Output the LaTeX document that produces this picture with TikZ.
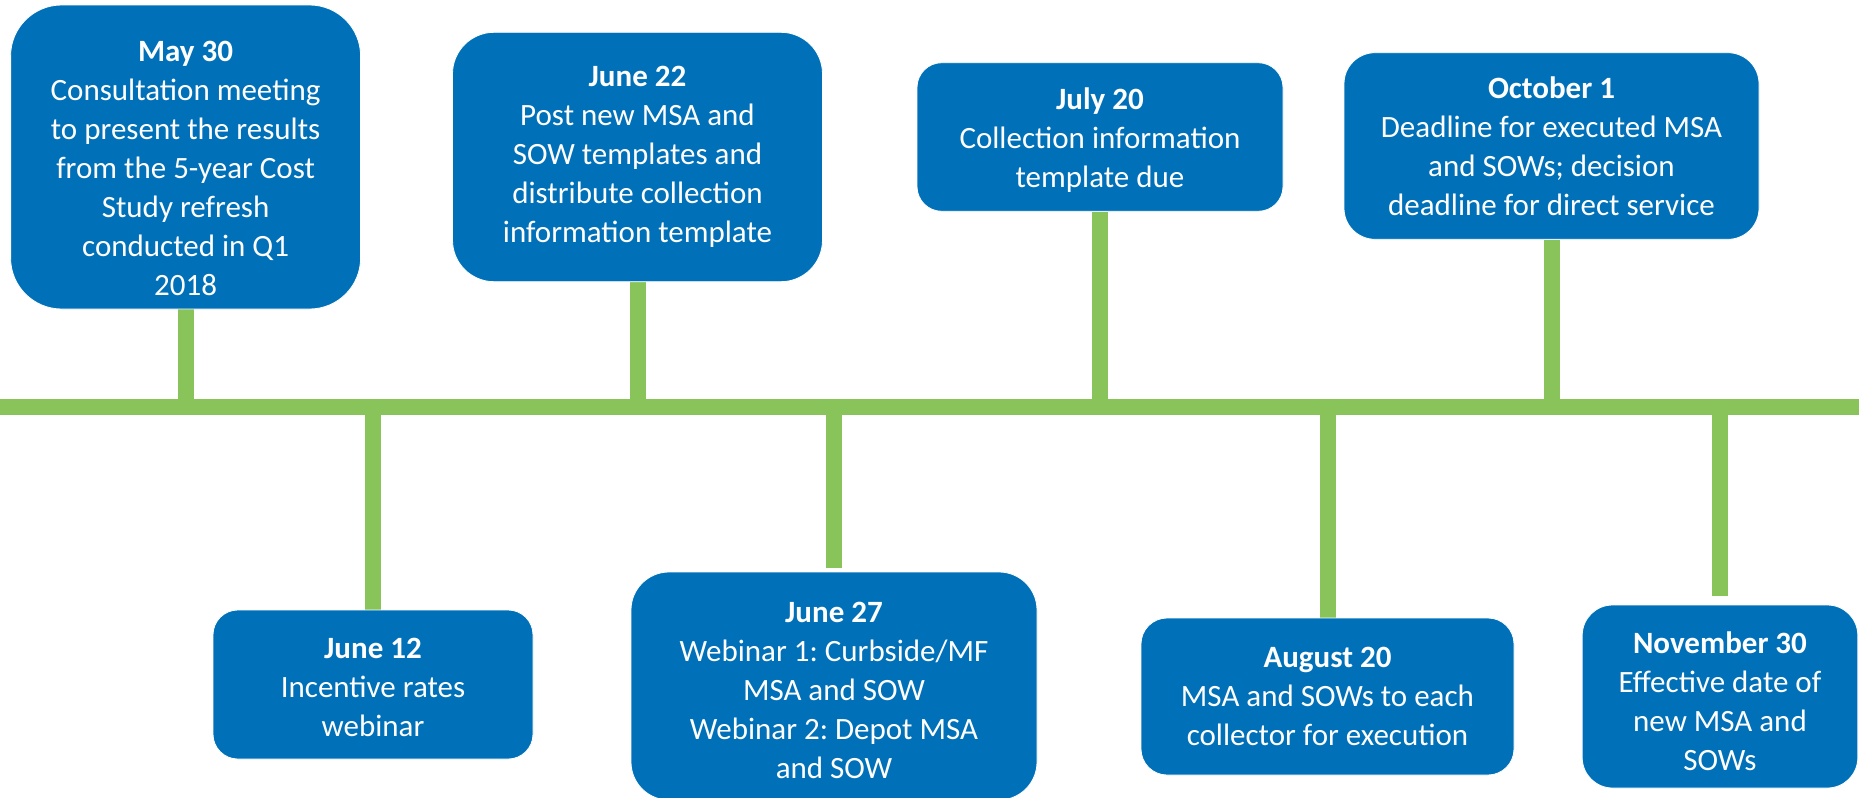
\documentclass[tikz,border=0pt]{standalone}
\usepackage{fontspec}
\setmainfont{Carlito}
\usetikzlibrary{backgrounds}
\definecolor{boxblue}{HTML}{0070B8}
\definecolor{linegreen}{HTML}{88C45A}
\newcommand{\dropby}[1]{\rule{0pt}{\dimexpr 10pt+2\dimexpr #1\relax\relax}}
\tikzset{
  evbox/.style={rectangle, fill=boxblue, draw=white, line width=0.4pt, text=white, align=center,
    font=\fontsize{15.5}{19.5}\selectfont\frenchspacing, inner sep=0pt},
  tline/.style={draw=linegreen, line width=8pt},
}
\begin{document}
\begin{tikzpicture}[x=0.5pt,y=-0.5pt]
\useasboundingbox (0,0) rectangle (1859,798);
% boxes (top row)
\node[evbox, minimum width=175pt, minimum height=152pt, rounded corners=25.5pt] (may30) at (185.6,157)
  {\dropby{6pt}\textbf{May 30}\\Consultation meeting\\to present the results\\from the 5-year Cost\\Study refresh\\conducted in Q1\\2018};
\node[evbox, minimum width=185pt, minimum height=124.7pt, rounded corners=20.8pt] (jun22) at (637.5,157)
  {\textbf{June 22}\\Post new MSA and\\SOW templates and\\distribute collection\\information template};
\node[evbox, minimum width=183pt, minimum height=74.3pt, rounded corners=12.4pt] (jul20) at (1100,137)
  {\dropby{2pt}\textbf{July 20}\\Collection information\\template due};
\node[evbox, minimum width=207.5pt, minimum height=93.3pt, rounded corners=15.5pt] (oct1) at (1551.5,146)
  {\dropby{0.8pt}\textbf{October 1}\\Deadline for executed MSA\\and SOWs; decision\\deadline for direct service};
% boxes (bottom row)
\node[evbox, minimum width=160pt, minimum height=74.5pt, rounded corners=12.4pt] (jun12) at (373,684.5)
  {\dropby{1.6pt}\textbf{June 12}\\Incentive rates\\webinar};
\node[evbox, minimum width=203pt, minimum height=114pt, rounded corners=19pt] (jun27) at (834,686)
  {\dropby{2.2pt}\textbf{June 27}\\Webinar 1: Curbside/MF\\MSA and SOW\\Webinar 2: Depot MSA\\and SOW};
\node[evbox, minimum width=186.5pt, minimum height=78.5pt, rounded corners=13pt] (aug20) at (1327.5,696.5)
  {\textbf{August 20}\\MSA and SOWs to each\\collector for execution};
\node[evbox, minimum width=137.8pt, minimum height=91.5pt, rounded corners=15.2pt] (nov30) at (1720,696.5)
  {\dropby{2.8pt}\textbf{November 30}\\Effective date of\\new MSA and\\SOWs};
% timeline
\coordinate (tlL) at (0,407);
\coordinate (tlR) at (1859,407);
\begin{scope}[on background layer]
\draw[tline] (tlL) -- (tlR);
\draw[tline] (may30.south) -- (may30.south |- tlL);
\draw[tline] (jun22.south) -- (jun22.south |- tlL);
\draw[tline] (jul20.south) -- (jul20.south |- tlL);
\draw[tline] (oct1.south) -- (oct1.south |- tlL);
\draw[tline] (jun12.north) -- (jun12.north |- tlL);
\draw[tline, shorten <=2pt] (jun27.north) -- (jun27.north |- tlL);
\draw[tline] (aug20.north) -- (aug20.north |- tlL);
\draw[tline, shorten <=4.5pt] (nov30.north) -- (nov30.north |- tlL);
\end{scope}
\end{tikzpicture}
\end{document}
